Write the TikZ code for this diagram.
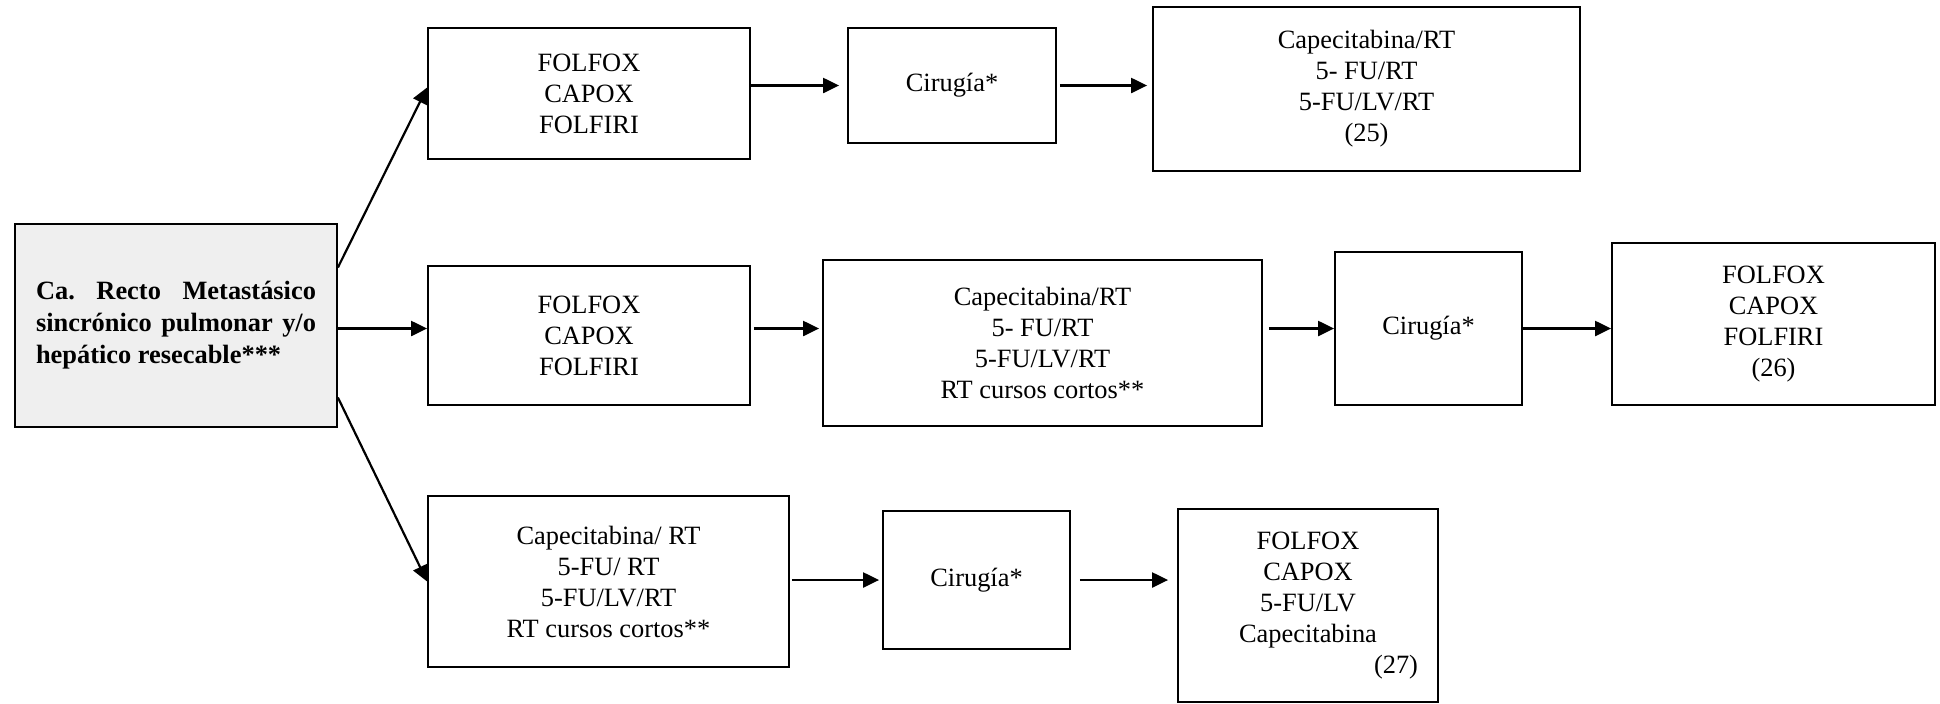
\documentclass[tikz,border=0pt]{standalone}
\usepackage{fontspec}
\setmainfont{Liberation Serif}
\usetikzlibrary{arrows.meta}

\definecolor{boxgray}{RGB}{239,239,239}

\begin{document}
\begin{tikzpicture}[x=0.5pt, y=-0.5pt,
    box/.style={rectangle, draw, line width=0.9pt, align=center, inner sep=2pt, font=\fontsize{13.2}{15.5}\selectfont},
    arr/.style={-{Triangle[length=8pt,width=7.5pt]}, line width=1.1pt}]

\useasboundingbox (0,0) rectangle (1940,703);

% left: starting box
\node [box, fill=boxgray, minimum width=161pt, minimum height=101.5pt, text width=140pt, align=justify, inner xsep=10pt,
       font=\fontsize{13.2}{16}\selectfont\bfseries\frenchspacing] (main) at (176,325.5)
      {Ca. Recto Metastásico sincrónico pulmonar y/o hepático resecable***};

% top branch
\node [box, minimum width=161pt, minimum height=65.5pt] (t1) at (589,93.5) {FOLFOX\\CAPOX\\FOLFIRI};
\node [box, minimum width=104pt, minimum height=57.5pt] (t2) at (952,85.5) {Cirugía*};
\node [box, minimum width=213.5pt, minimum height=82pt] (t3) at (1366.5,89) {Capecitabina/RT\\5- FU/RT\\5-FU/LV/RT\\(25)};

% middle branch
\node [box, minimum width=161pt, minimum height=69.5pt] (m1) at (589,335.5) {FOLFOX\\CAPOX\\FOLFIRI};
\node [box, minimum width=219.5pt, minimum height=83pt] (m2) at (1042.5,343) {Capecitabina/RT\\5- FU/RT\\5-FU/LV/RT\\RT cursos cortos**};
\node [box, minimum width=93.5pt, minimum height=76.5pt] (m3) at (1428.5,328.5) {Cirugía*};
\node [box, minimum width=161.5pt, minimum height=81pt] (m4) at (1773.5,324) {FOLFOX\\CAPOX\\FOLFIRI\\(26)};

% bottom branch
\node [box, minimum width=180.5pt, minimum height=85.5pt] (b1) at (608.5,581.5) {Capecitabina/ RT\\5-FU/ RT\\5-FU/LV/RT\\RT cursos cortos**};
\node [box, minimum width=93.5pt, minimum height=69pt] (b2) at (976.5,580) {Cirugía*};
\node [box, minimum width=130pt, minimum height=96.5pt] (b3) at (1308,605.5) {FOLFOX\\CAPOX\\5-FU/LV\\Capecitabina\\\hspace*{88pt}(27)};

% connectors
\draw [arr] ([yshift=29pt]main.east) -- ([yshift=3pt]t1.west);
\draw [arr] (main.east |- m3.west) -- (m1.west |- m3.west);
\draw [arr] ([yshift=-36pt]main.east) -- (b1.west);

\draw [arr, shorten >=4pt] (t1.east |- t2.west) -- (t2.west);
\draw [arr, shorten <=1.5pt, shorten >=2.5pt] (t2.east) -- (t2.east -| t3.west);

\draw [arr, shorten <=1.5pt, shorten >=1.5pt] (m1.east |- m3.west) -- (m2.west |- m3.west);
\draw [arr, shorten <=3pt] (m2.east |- m3.west) -- (m3.west);
\draw [arr] (m3.east) -- (m3.east -| m4.west);

\draw [arr, shorten <=1pt, shorten >=1.5pt] (b1.east |- b2.west) -- (b2.west);
\draw [arr, shorten <=4.5pt, shorten >=4.5pt] (b2.east) -- (b2.east -| b3.west);
\end{tikzpicture}
\end{document}
